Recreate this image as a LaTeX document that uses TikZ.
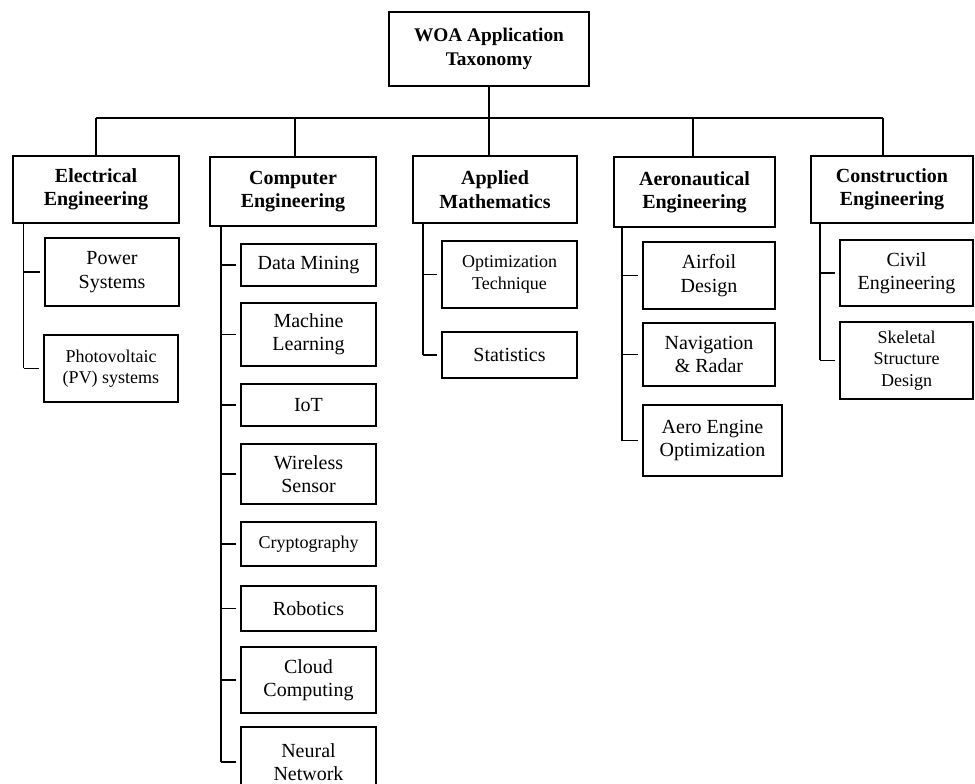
\documentclass[tikz,border=0pt]{standalone}
\usepackage{fontspec}
\setmainfont{Liberation Serif}
\begin{document}
\begin{tikzpicture}[x=0.75pt, y=-0.75pt, line width=1pt,
    box/.style n args={2}{draw, inner sep=0pt, align=center,
        minimum width=#1*0.75pt, minimum height=#2*0.75pt,
        font=\fontsize{15}{17.5}\selectfont},
    catbox/.style={font=\fontsize{15}{17.5}\selectfont\bfseries},
    rootbox/.style={font=\fontsize{14.5}{18}\selectfont\bfseries},
    leafsmall/.style={font=\fontsize{13.5}{16}\selectfont},
    link/.style={shorten >=3pt}]
    \useasboundingbox (0,0) rectangle (975,784);
    \clip (0,0) rectangle (975,784);
    % root and categories
    \node[box={200}{74}, rootbox] (root) at (489,49) {WOA Application\\Taxonomy};
    \node[box={166}{67}, catbox] (elec) at (96,189.5) {Electrical\\Engineering};
    \node[box={166}{69}, catbox] (comp) at (293,191.5) {Computer\\Engineering};
    \node[box={164}{67}, catbox] (appl) at (495,189.5) {Applied\\Mathematics};
    \node[box={161}{70}, catbox] (aero) at (694.5,192) {Aeronautical\\Engineering};
    \node[box={162}{67}, catbox] (cons) at (892,189.5) {Construction\\Engineering};
    % electrical
    \node[box={134}{68}] (ps) at (112,272) {Power\\Systems};
    \node[box={134}{67}, leafsmall] (pv) at (111,368.5) {Photovoltaic\\(PV) systems};
    % computer
    \node[box={135}{42}] (dm) at (308.5,265) {Data Mining};
    \node[box={135}{63}] (ml) at (308.5,334.5) {Machine\\Learning};
    \node[box={135}{42}] (iot) at (308.5,405) {IoT};
    \node[box={135}{60}] (ws) at (308.5,474) {Wireless\\Sensor};
    \node[box={135}{44}, leafsmall] (cry) at (308.5,544) {Cryptography};
    \node[box={135}{45}] (rob) at (308.5,608.5) {Robotics};
    \node[box={135}{66}] (cc) at (308.5,680) {Cloud\\Computing};
    \node[box={135}{70}] (nn) at (308.5,762) {Neural\\Network};
    % applied
    \node[box={135}{67}, leafsmall] (opt) at (509.5,274.5) {Optimization\\Technique};
    \node[box={135}{46}] (stat) at (509.5,355) {Statistics};
    % aeronautical
    \node[box={132}{67}] (af) at (709,275.5) {Airfoil\\Design};
    \node[box={132}{63}] (nav) at (709,354.5) {Navigation\\\& Radar};
    \node[box={139}{71}] (aeng) at (712.5,440.5) {Aero Engine\\Optimization};
    % construction
    \node[box={133}{66}] (civ) at (906.5,273) {Civil\\Engineering};
    \node[box={133}{77}, leafsmall] (skel) at (906.5,360.5) {Skeletal\\Structure\\Design};

    % bus
    \coordinate (bus) at (489,118);
    \draw (root.south) -- (bus);
    \foreach \h/\x in {elec/96, comp/295, appl/489, aero/693, cons/883} {
        \coordinate (d\h) at (\x,118);
        \draw (d\h) -- (d\h |- \h.north);
    }
    \draw (delec) -- (dcons);

    % trunks
    \foreach \h/\x/\last in {elec/23.7/pv, comp/221/nn, appl/423/stat, aero/622/aeng, cons/820/skel} {
        \coordinate (t\h) at (\x,0);
        \draw (t\h |- \h.south) -- (t\h |- \last.west);
    }
    \foreach \c in {ps,pv} \draw[link] (telec |- \c.west) -- (\c.west);
    \foreach \c in {dm,ml,iot,ws,cry,rob,cc,nn} \draw[link] (tcomp |- \c.west) -- (\c.west);
    \foreach \c in {opt,stat} \draw[link] (tappl |- \c.west) -- (\c.west);
    \foreach \c in {af,nav,aeng} \draw[link] (taero |- \c.west) -- (\c.west);
    \foreach \c in {civ,skel} \draw[link] (tcons |- \c.west) -- (\c.west);
\end{tikzpicture}
\end{document}
